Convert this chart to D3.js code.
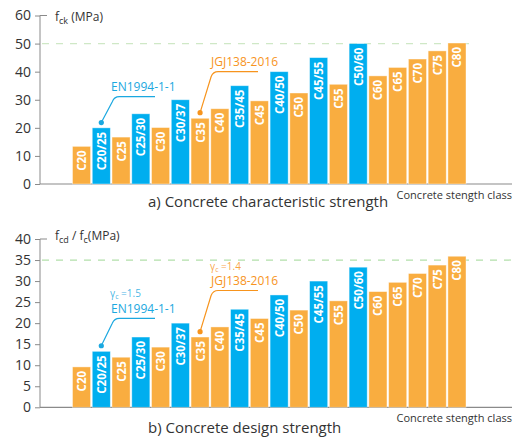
<!DOCTYPE html>
<html>
<head>
<meta charset="utf-8">
<script src="https://cdn.jsdelivr.net/npm/d3@7"></script>
<style>
  html, body { margin: 0; padding: 0; background: #fff; }
  svg { display: block; font-family: "Open Sans", "Lato", sans-serif; }
</style>
</head>
<body>
<svg id="chart" width="515" height="439"></svg>
<script>
// Strength classes in order along the x axis
const classes = ["C20", "C20/25", "C25", "C25/30", "C30", "C30/37", "C35", "C40", "C35/45", "C45",
                 "C40/50", "C50", "C45/55", "C55", "C50/60", "C60", "C65", "C70", "C75", "C80"];
// Which code each class belongs to (EN = EN1994-1-1, JGJ = JGJ138-2016)
const codes = ["JGJ", "EN", "JGJ", "EN", "JGJ", "EN", "JGJ", "JGJ", "EN", "JGJ",
               "EN", "JGJ", "EN", "JGJ", "EN", "JGJ", "JGJ", "JGJ", "JGJ", "JGJ"];
// Characteristic strength f_ck (MPa)
const fck = [13.4, 20, 16.7, 25, 20.1, 30, 23.4, 26.8, 35, 29.6,
             40, 32.4, 45, 35.5, 50, 38.5, 41.5, 44.5, 47.4, 50.2];
// Design strength f_cd / f_c (MPa)
const fcd = [9.6, 13.3, 11.9, 16.7, 14.3, 20, 16.7, 19.1, 23.3, 21.1,
             26.7, 23.1, 30, 25.3, 33.3, 27.5, 29.7, 31.8, 33.8, 35.9];
const ticksA = [0, 10, 20, 30, 40, 50, 60];
const ticksB = [0, 5, 10, 15, 20, 25, 30, 35, 40];

const colors = { JGJ: "#f9ad40", EN: "#00aeef" };
const noteColors = { JGJ: "#f7941d", EN: "#1ba8e0" };
const svg = d3.select("#chart");

const x = d3.scaleBand().domain(classes).range([72.5, 466]).paddingInner(0.085).paddingOuter(0);

function panel(cfg) {
  const y = d3.scaleLinear().domain(cfg.domain).range([cfg.y0, cfg.y1]);
  const g = svg.append("g");
  const axisColor = "#8a8a8a";

  // reference line
  g.append("line")
    .attr("x1", 42).attr("x2", cfg.refEnd)
    .attr("y1", y(cfg.ref)).attr("y2", y(cfg.ref))
    .attr("stroke", cfg.refColor).attr("stroke-width", 1.2)
    .attr("stroke-dasharray", "7,7");

  // y axis
  const ya = d3.axisLeft(y).tickValues(cfg.ticks).tickSize(5).tickPadding(4);
  const yg = g.append("g").attr("transform", "translate(40,0)").call(ya);
  yg.select(".domain").remove();
  yg.selectAll(".tick line").attr("stroke", axisColor);
  yg.selectAll(".tick text").attr("fill", "#333").attr("font-size", 14)
    .attr("font-family", "Open Sans, sans-serif");
  g.append("path")
    .attr("d", `M47,${cfg.y1}H40V${cfg.y0}`)
    .attr("fill", "none").attr("stroke", axisColor).attr("stroke-width", 1);

  // x axis baseline
  g.append("line").attr("x1", 40).attr("x2", 512)
    .attr("y1", cfg.y0).attr("y2", cfg.y0)
    .attr("stroke", axisColor).attr("stroke-width", 1.2);

  // bars
  g.selectAll("rect.bar").data(classes).join("rect").attr("class", "bar")
    .attr("x", d => x(d)).attr("width", x.bandwidth())
    .attr("y", (d, i) => y(cfg.values[i]))
    .attr("height", (d, i) => y(0) - y(cfg.values[i]))
    .attr("fill", (d, i) => colors[codes[i]])
    .attr("stroke", "#fff").attr("stroke-opacity", 0.5).attr("stroke-width", 0.8);

  // bar labels
  g.selectAll("text.lbl").data(classes).join("text").attr("class", "lbl")
    .attr("transform", (d, i) => `translate(${x(d) + x.bandwidth() / 2},${y(cfg.values[i]) + 4}) rotate(-90)`)
    .attr("text-anchor", "end").attr("dominant-baseline", "central")
    .attr("fill", "#fff").attr("font-size", 11.5).attr("font-weight", 700)
    .text(d => d);

  // axis titles
  g.append("text").attr("x", 55).attr("y", cfg.titleY).attr("fill", "#333").attr("font-size", 12)
    .html(cfg.title);
  g.append("text").attr("x", 512).attr("y", cfg.y0 + 15).attr("text-anchor", "end")
    .attr("fill", "#333").attr("font-size", 11).text("Concrete stength class");
  g.append("text").attr("x", 148).attr("y", cfg.captionY).attr("fill", "#333")
    .attr("font-size", 15).text(cfg.caption);

  // callouts
  cfg.notes.forEach(n => {
    const i = classes.indexOf(n.cls);
    const cx = x(n.cls) + x.bandwidth() / 2;
    const cy = y(cfg.values[i]) - n.gap;
    const hy = n.lineY;
    const col = noteColors[codes[i]];
    g.append("path")
      .attr("d", `M${cx},${cy}L${cx + 11},${hy + 5}Q${cx + 13},${hy} ${cx + 18},${hy}H${n.lineEnd}`)
      .attr("fill", "none").attr("stroke", col).attr("stroke-width", 1.2);
    g.append("circle").attr("cx", cx).attr("cy", cy).attr("r", 2.6).attr("fill", col);
    g.append("text").attr("x", n.tx).attr("y", hy - 5.5).attr("fill", col)
      .attr("font-size", 12).text(n.text);
    if (n.gamma) {
      const t = g.append("text").attr("x", n.tx - 1).attr("y", hy - 21).attr("fill", col)
        .attr("fill-opacity", 0.85).attr("font-size", 10);
      t.append("tspan").text("γ");
      t.append("tspan").attr("font-size", 7).attr("dy", 2).text("c");
      t.append("tspan").attr("dy", -2).text(" =" + n.gamma);
    }
  });
}

panel({
  values: fck, domain: [0, 60], ticks: ticksA, y0: 184, y1: 15.5,
  ref: 50, refEnd: 471, refColor: "#cfe8c6",
  title: 'f<tspan font-size="9" dy="3">ck</tspan><tspan dy="-3"> (MPa)</tspan>', titleY: 21,
  caption: "a) Concrete characteristic strength", captionY: 207,
  notes: [
    { cls: "C20/25", gap: 5.3, lineY: 96.7, lineEnd: 155, tx: 111, text: "EN1994-1-1" },
    { cls: "C35", gap: 5.6, lineY: 71.7, lineEnd: 258, tx: 211, text: "JGJ138-2016" }
  ]
});

panel({
  values: fcd, domain: [0, 40], ticks: ticksB, y0: 407.3, y1: 239,
  ref: 35, refEnd: 515, refColor: "#b2dfaa",
  title: 'f<tspan font-size="9" dy="3">cd</tspan><tspan dy="-3"> / f</tspan><tspan font-size="9" dy="3">c</tspan><tspan dy="-3">(MPa)</tspan>', titleY: 240,
  caption: "b) Concrete design strength", captionY: 433,
  notes: [
    { cls: "C20/25", gap: 5.6, lineY: 318.3, lineEnd: 155, tx: 111, text: "EN1994-1-1", gamma: "1.5" },
    { cls: "C35", gap: 5.4, lineY: 290.5, lineEnd: 258, tx: 211, text: "JGJ138-2016", gamma: "1.4" }
  ]
});
</script>
</body>
</html>
